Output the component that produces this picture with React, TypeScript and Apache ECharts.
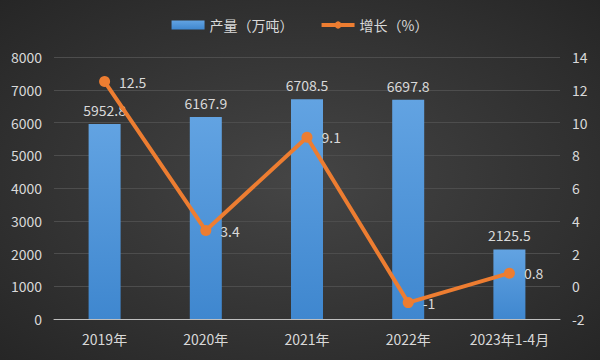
import React, { useEffect, useRef } from "react";
import * as echarts from "echarts";

const categories = ["2019年", "2020年", "2021年", "2022年", "2023年1-4月"];
const output = [5952.8, 6167.9, 6708.5, 6697.8, 2125.5];
const growth = [12.5, 3.4, 9.1, -1, 0.8];

const FONT = "'Noto Sans CJK SC', 'Noto Sans', sans-serif";
const TXT = "#d9d9d9";
const FS = 14;

export default function App() {
  const ref = useRef<HTMLDivElement>(null);
  useEffect(() => {
    if (!ref.current) return;
    const chart = echarts.init(ref.current, null, { renderer: "svg" });
    chart.setOption({
      animation: false,
      backgroundColor: new echarts.graphic.RadialGradient(0.5, 0.5, 0.75, [
        { offset: 0, color: "#454545" },
        { offset: 1, color: "#242424" },
      ]),
      textStyle: { fontFamily: FONT },
      legend: {
        top: 13,
        left: "center",
        itemGap: 26,
        itemWidth: 33,
        itemHeight: 9,
        textStyle: { color: TXT, fontSize: FS, fontFamily: FONT },
        data: [
          { name: "产量（万吨）", icon: "rect" },
          { name: "增长（%）", lineStyle: { width: 4 } },
        ],
      },
      grid: { left: 54, right: 40, top: 57, bottom: 41 },
      xAxis: {
        type: "category",
        data: categories,
        axisTick: { show: false },
        axisLine: { lineStyle: { color: "#bfbfbf", width: 1 } },
        axisLabel: {
          color: TXT,
          fontSize: FS,
          margin: 13,
          interval: 0,
          fontFamily: FONT,
        },
      },
      yAxis: [
        {
          type: "value",
          min: 0,
          max: 8000,
          interval: 1000,
          axisLabel: {
            color: TXT,
            fontSize: FS,
            margin: 12,
            fontFamily: FONT,
            formatter: (v: number) => String(v),
          },
          splitLine: { lineStyle: { color: "#4d4d4d", width: 1 } },
          axisLine: { show: false },
          axisTick: { show: false },
        },
        {
          type: "value",
          min: -2,
          max: 14,
          interval: 2,
          axisLabel: { color: TXT, fontSize: FS, margin: 12, fontFamily: FONT },
          splitLine: { show: false },
          axisLine: { show: false },
          axisTick: { show: false },
        },
      ],
      series: [
        {
          name: "产量（万吨）",
          type: "bar",
          data: output,
          barWidth: 32,
          itemStyle: {
            color: new echarts.graphic.LinearGradient(0, 0, 0, 1, [
              { offset: 0, color: "#62a3e2" },
              { offset: 1, color: "#3f87cf" },
            ]),
          },
          label: {
            show: true,
            position: "top",
            distance: 7,
            color: TXT,
            fontSize: FS,
            fontFamily: FONT,
          },
        },
        {
          name: "增长（%）",
          type: "line",
          yAxisIndex: 1,
          data: growth,
          symbol: "circle",
          symbolSize: 11,
          lineStyle: { color: "#ed7d31", width: 4 },
          itemStyle: { color: "#ed7d31" },
          label: {
            show: true,
            position: "right",
            distance: 9,
            color: TXT,
            fontSize: FS,
            fontFamily: FONT,
          },
        },
      ],
    });
    return () => chart.dispose();
  }, []);
  return (
    <div
      ref={ref}
      style={{ position: "absolute", left: 0, top: 0, width: 600, height: 360 }}
    />
  );
}
